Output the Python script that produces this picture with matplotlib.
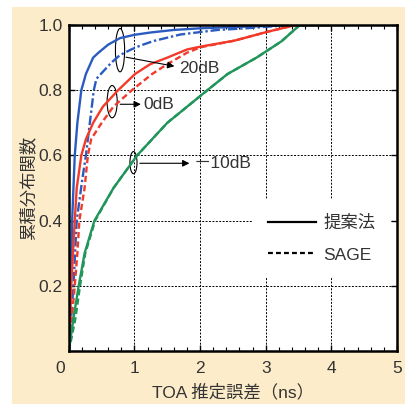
import matplotlib
matplotlib.use("Agg")
import matplotlib.pyplot as plt
from matplotlib.patches import Ellipse, Rectangle
from matplotlib.transforms import ScaledTranslation

plt.rcParams["font.family"] = ["Liberation Sans", "Noto Sans CJK JP"]

# CDF curves (x: TOA error in ns, y: CDF)
blue_prop_x = [0, 0.03, 0.05, 0.09, 0.13, 0.19, 0.26, 0.37, 0.45, 0.6, 0.78, 1.0, 1.24, 1.6, 2.0, 2.5, 3.0, 3.5, 4.0]
blue_prop_y = [0, 0.2, 0.4, 0.6, 0.7, 0.8, 0.85, 0.9, 0.915, 0.94, 0.96, 0.97, 0.977, 0.985, 0.99, 0.994, 0.997, 1.0, 1.0]

blue_sage_x = [0, 0.07, 0.12, 0.2, 0.26, 0.32, 0.38, 0.42, 0.52, 0.65, 0.78, 0.95, 1.09, 1.29, 1.7, 2.27, 2.7, 3.03, 3.4, 4.0]
blue_sage_y = [0, 0.2, 0.4, 0.52, 0.6, 0.7, 0.8, 0.835, 0.857, 0.885, 0.908, 0.925, 0.937, 0.951, 0.971, 0.985, 0.99, 0.995, 1.0, 1.0]

red_prop_x = [0, 0.036, 0.09, 0.12, 0.19, 0.26, 0.37, 0.52, 0.75, 1.01, 1.24, 1.5, 1.8, 2.01, 2.52, 3.04, 3.39, 3.6, 4.0]
red_prop_y = [0, 0.2, 0.4, 0.5, 0.6, 0.65, 0.7, 0.75, 0.8, 0.85, 0.88, 0.9, 0.925, 0.934, 0.952, 0.98, 0.997, 1.0, 1.0]

red_sage_x = [0, 0.09, 0.13, 0.16, 0.24, 0.29, 0.34, 0.5, 0.68, 0.96, 1.27, 1.5, 1.8, 2.01, 2.52, 3.04, 3.39, 3.6, 4.0]
red_sage_y = [0, 0.2, 0.3, 0.4, 0.5, 0.6, 0.65, 0.7, 0.75, 0.8, 0.85, 0.88, 0.915, 0.932, 0.952, 0.98, 0.997, 1.0, 1.0]

green_prop_x = [0, 0.07, 0.15, 0.24, 0.39, 0.68, 1.04, 1.5, 2.11, 2.42, 2.86, 3.24, 3.52, 4.2]
green_prop_y = [0, 0.1, 0.2, 0.3, 0.4, 0.5, 0.6, 0.7, 0.8, 0.85, 0.9, 0.95, 1.0, 1.0]

green_sage_x = [0, 0.1, 0.17, 0.25, 0.4, 0.68, 1.04, 1.5, 2.11, 2.42, 2.86, 3.24, 3.52, 4.2]
green_sage_y = [0, 0.1, 0.2, 0.3, 0.4, 0.5, 0.6, 0.7, 0.8, 0.85, 0.9, 0.95, 1.0, 1.0]

x_ticks = [0, 1, 2, 3, 4, 5]
y_ticks = [0.2, 0.4, 0.6, 0.8, 1.0]

blue = "#2a5cc0"
red = "#f23a2a"
green = "#21955a"
text_col = "#333333"
dash = (2.6, 1.4)
dashdot = (4.0, 1.2, 1.0, 1.2)
fs = 12.5

fig = plt.figure(figsize=(4.05, 4.04), dpi=100, facecolor="white")
# cream backdrop like the magazine page
fig.patches.append(Rectangle((12 / 405, 0), 1, (404 - 7) / 404, transform=fig.transFigure,
                             facecolor="#fdecca", edgecolor="none", zorder=-10))

ax = fig.add_axes([0.170, 0.131, 0.810, 0.807])
ax.set_zorder(1)
ax.set_facecolor("white")

ax.plot(blue_prop_x, blue_prop_y, color=blue, lw=1.7)
ax.plot(blue_sage_x, blue_sage_y, color=blue, lw=1.7, dashes=dashdot)
ax.plot(red_prop_x, red_prop_y, color=red, lw=1.7)
ax.plot(red_sage_x, red_sage_y, color=red, lw=1.7, dashes=dash)
ax.plot(green_prop_x, green_prop_y, color=green, lw=1.7)
ax.plot(green_sage_x, green_sage_y, color=green, lw=1.7, dashes=dash)

ax.set_xlim(0, 5)
ax.set_ylim(0, 1.0)
ax.set_xticks(x_ticks)
ax.set_yticks(y_ticks)
ax.set_yticklabels(["0.2", "0.4", "0.6", "0.8", "1.0"])
ax.set_xticks([i * 0.2 for i in range(26)], minor=True)
ax.tick_params(which="both", direction="in", top=True, right=True, labelsize=fs,
               labelcolor=text_col)
ax.tick_params(axis="x", pad=7)
ax.tick_params(axis="y", pad=4.5)
ax.tick_params(which="major", length=4, width=1)
ax.tick_params(which="minor", length=3, width=0.8)

for s in ax.spines.values():
    s.set_linewidth(1.8)

ax.grid(True, color="black", linestyle=(0, (2, 1.5)), linewidth=0.7)

# shift the shared corner "0"
lab0 = ax.get_xticklabels()[0]
lab0.set_transform(lab0.get_transform() + ScaledTranslation(-0.09, 0, fig.dpi_scale_trans))

ax.set_xlabel("TOA 推定誤差（ns）", fontsize=fs, color=text_col, labelpad=6)
ax.set_ylabel("累積分布関数", fontsize=fs, color=text_col)
ax.yaxis.set_label_coords(-0.10, 0.5)

# legend
h1, = ax.plot([], [], color="black", lw=1.6)
h2, = ax.plot([], [], color="black", lw=1.6, dashes=(2.2, 1.4))
leg = ax.legend([h1, h2], ["提案法", "SAGE"], loc="center", bbox_to_anchor=(0.77, 0.345),
                fontsize=fs, frameon=True, fancybox=False, handlelength=2.8,
                handletextpad=0.4, labelspacing=0.95, borderpad=0.9)
leg.get_frame().set_facecolor("white")
leg.get_frame().set_edgecolor("none")
leg.get_frame().set_alpha(1)
for t in leg.get_texts():
    t.set_color(text_col)

# SNR callouts
ax.add_patch(Ellipse((0.78, 0.923), 0.14, 0.133, fill=False, edgecolor="black", lw=0.8))
ax.annotate("", xy=(1.65, 0.872), xytext=(0.83, 0.903),
            arrowprops=dict(arrowstyle="-|>", color="black", lw=0.8, mutation_scale=10))
ax.text(1.68, 0.866, "20dB", fontsize=fs, color=text_col, va="center")

ax.add_patch(Ellipse((0.66, 0.765), 0.154, 0.099, fill=False, edgecolor="black", lw=0.8))
ax.annotate("", xy=(1.14, 0.757), xytext=(0.74, 0.757),
            arrowprops=dict(arrowstyle="-|>", color="black", lw=0.8, mutation_scale=10))
ax.text(1.14, 0.757, "0dB", fontsize=fs, color=text_col, va="center")

ax.add_patch(Ellipse((0.985, 0.578), 0.108, 0.068, fill=False, edgecolor="black", lw=0.8))
ax.annotate("", xy=(1.88, 0.576), xytext=(1.04, 0.576),
            arrowprops=dict(arrowstyle="-|>", color="black", lw=0.8, mutation_scale=10))
ax.text(1.90, 0.576, "－10dB", fontsize=fs, color=text_col, va="center")

fig.savefig("out.png", dpi=100, facecolor=fig.get_facecolor())
